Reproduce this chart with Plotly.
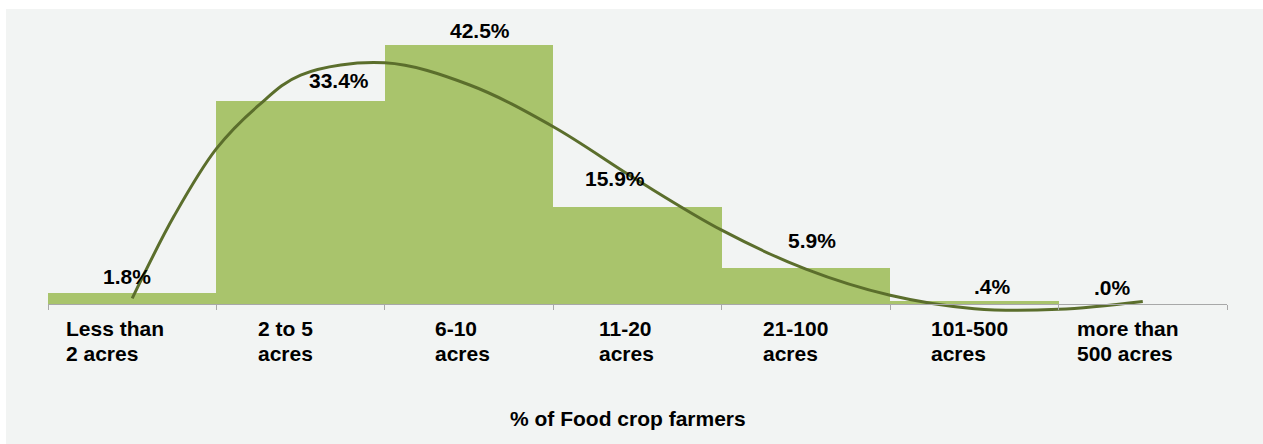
import plotly.graph_objects as go

# ---- data ----
categories = ["Less than<br>2 acres", "2 to 5<br>acres", "6-10<br>acres", "11-20<br>acres",
              "21-100<br>acres", "101-500<br>acres", "more than<br>500 acres"]
share_pct = [1.8, 33.4, 42.5, 15.9, 5.9, 0.4, 0.0]

# trend curve (x in category units, 0 = first category centre)
curve_x = [0.0, 0.25, 0.5, 0.75, 1.0, 1.5, 2.0, 2.5, 3.0, 3.5, 4.0, 4.5, 5.0, 5.5, 6.0]
curve_y = [0.9, 14.5, 25.5, 32.6, 37.6, 39.6, 36.0, 29.1, 20.3, 12.1, 5.7, 1.4, -0.8, -0.9, 0.4]

axis_title = "% of Food crop farmers"

# ---- styling ----
BG = "#f2f4f3"
BAR = "#a9c46c"
LINE = "#5b6e2c"
AXIS = "#a8a8a8"
FONT = "Liberation Sans, Arial, Helvetica, sans-serif"
FS = 21
W, H = 1263, 444
ML, MR, MT, MB = 48, 36, 30, 128
YMIN, YMAX = -2, 45

# per-label pixel nudges (as in the original layout)
label_dx = [-5, 38, 11, -23, 6, 18, -30]
label_dy = [3, 7, 1, 15, 14, 1, 3]
# left inset of each category label block from the category's left edge (px)
cat_inset = [16, 40, 48, 44, 39, 39, 16]


def fmt(v):
    s = f"{v:.1f}%"
    return s[1:] if s.startswith("0.") else s


n = len(categories)
xs = list(range(n))

fig = go.Figure()
fig.add_trace(go.Bar(x=xs, y=share_pct, width=1.0, marker=dict(color=BAR, line=dict(width=0)),
                     hoverinfo="skip"))
fig.add_trace(go.Scatter(x=curve_x, y=curve_y, mode="lines",
                         line=dict(color=LINE, width=3, shape="spline", smoothing=1.0),
                         hoverinfo="skip"))

font = dict(family=FONT, size=FS, color="#000000", weight="bold")
annotations = []
for i, v in enumerate(share_pct):
    annotations.append(dict(x=i, y=v, xref="x", yref="y", text=fmt(v), showarrow=False,
                            yanchor="bottom", xanchor="center", xshift=label_dx[i], yshift=label_dy[i],
                            font=font))
for i, c in enumerate(categories):
    for j, line in enumerate(c.split("<br>")):
        annotations.append(dict(x=i - 0.5, y=0, xref="x", yref="y", text=line, showarrow=False,
                                yanchor="top", xanchor="left", xshift=cat_inset[i],
                                yshift=-11 - 25 * j, font=font))
annotations.append(dict(x=0.5, y=0, xref="paper", yref="paper", text=axis_title, showarrow=False,
                        yanchor="top", xanchor="center", xshift=-10, yshift=-89, font=font))

# white outer strips (page border of the original image)
pw, ph = W - ML - MR, H - MT - MB
def px_to_paper_x(px):
    return (px - ML) / pw
def py_to_paper_y(py):
    return (H - MB - py) / ph

shapes = [
    dict(type="rect", xref="paper", yref="paper", x0=px_to_paper_x(0), x1=px_to_paper_x(W),
         y0=py_to_paper_y(9), y1=py_to_paper_y(0), fillcolor="white", line=dict(width=0), layer="above"),
    dict(type="rect", xref="paper", yref="paper", x0=px_to_paper_x(0), x1=px_to_paper_x(6),
         y0=py_to_paper_y(H), y1=py_to_paper_y(0), fillcolor="white", line=dict(width=0), layer="above"),
]

boundaries = [i - 0.5 for i in range(n + 1)]

fig.update_layout(
    width=W, height=H,
    margin=dict(l=ML, r=MR, t=MT, b=MB, pad=0),
    paper_bgcolor=BG, plot_bgcolor="rgba(0,0,0,0)",
    showlegend=False, bargap=0,
    annotations=annotations, shapes=shapes,
    xaxis=dict(range=[-0.5, n - 0.5], tickvals=boundaries, showticklabels=False,
               ticks="outside", ticklen=5, tickcolor=AXIS, tickwidth=1,
               showline=True, linecolor=AXIS, linewidth=1, showgrid=False, zeroline=False,
               anchor="free", position=(0 - YMIN) / (YMAX - YMIN), fixedrange=True),
    yaxis=dict(range=[YMIN, YMAX], visible=False, showgrid=False, zeroline=False, fixedrange=True),
)

fig.write_html("out.html", config={"displayModeBar": False})
